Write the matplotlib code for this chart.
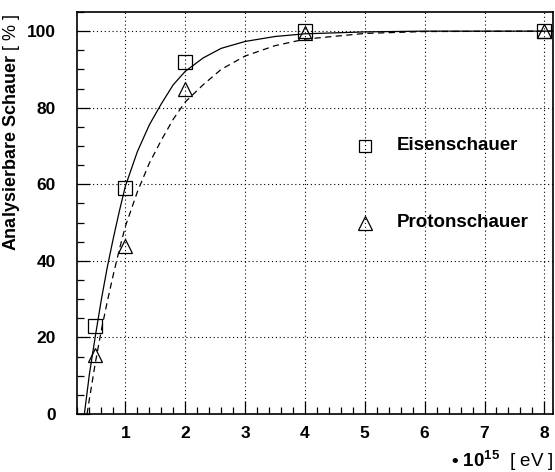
import matplotlib
matplotlib.use("Agg")
import matplotlib.pyplot as plt
from matplotlib.ticker import MultipleLocator

plt.rcParams['font.family'] = ['Liberation Sans', 'DejaVu Sans']
plt.rcParams['mathtext.fontset'] = 'custom'
plt.rcParams['mathtext.rm'] = 'Liberation Sans'
plt.rcParams['mathtext.bf'] = 'Liberation Sans:bold'
plt.rcParams['mathtext.it'] = 'Liberation Sans:italic'

# measured points
energy = [0.5, 1, 2, 4, 8]
eisen = [23, 59, 92, 100, 100]
proton = [15.5, 44, 85, 99.5, 100]

# fit curves
eisen_fit_x = [0.315, 0.4, 0.5, 0.6, 0.7, 0.8, 0.9, 1.0, 1.2, 1.4, 1.6, 1.8,
               2.0, 2.3, 2.6, 3.0, 3.5, 4.0, 5.0, 6.0, 8.15]
eisen_fit_y = [0, 10.5, 20.5, 30, 38.5, 46, 53, 59.5, 68.5, 75.5, 81, 86,
               89.5, 93, 95.5, 97.3, 98.6, 99.3, 99.8, 100, 100]
proton_fit_x = [0.36, 0.4, 0.5, 0.6, 0.7, 0.8, 0.9, 1.0, 1.2, 1.4, 1.6, 1.8,
                2.0, 2.3, 2.6, 3.0, 3.5, 4.0, 5.0, 6.0, 8.15]
proton_fit_y = [0, 4, 13.5, 22, 29.5, 36.5, 43, 49, 58, 65.5, 71.5, 77,
                81.5, 86, 90, 93.5, 96.2, 97.9, 99.4, 99.9, 100]

fig = plt.figure(figsize=(5.55, 4.72), dpi=100)
ax = fig.add_axes([0.1396, 0.1229, 0.8574, 0.8517])

ax.plot(eisen_fit_x, eisen_fit_y, color='black', lw=0.9)
ax.plot(proton_fit_x, proton_fit_y, color='black', lw=0.9, ls=(0, (5, 3.5)))
ax.plot(energy, eisen, ls='none', marker='s', ms=9.5, mfc='none',
        mec='black', mew=0.9)
ax.plot(energy, proton, ls='none', marker='^', ms=10, mfc='none',
        mec='black', mew=0.9)

# legend drawn inside the plot
ax.plot([5.01], [70], ls='none', marker='s', ms=9, mfc='none',
        mec='black', mew=0.9)
ax.plot([5.01], [50], ls='none', marker='^', ms=9.5, mfc='none',
        mec='black', mew=0.9)
ax.text(5.53, 70, 'Eisenschauer', fontsize=13.5, fontweight='bold',
        va='center', ha='left')
ax.text(5.53, 50, 'Protonschauer', fontsize=13.5, fontweight='bold',
        va='center', ha='left')

ax.set_xlim(0.2, 8.15)
ax.set_ylim(0, 105)
ax.xaxis.set_major_locator(MultipleLocator(1))
ax.xaxis.set_minor_locator(MultipleLocator(0.2))
ax.yaxis.set_major_locator(MultipleLocator(20))
ax.yaxis.set_minor_locator(MultipleLocator(5))
ax.set_xticks([1, 2, 3, 4, 5, 6, 7, 8])

ax.grid(True, which='major', color='black', ls=(0, (1, 2.5)), lw=0.8)
ax.tick_params(which='both', direction='in', color='black')
ax.tick_params(which='major', length=9.5, width=0.9)
ax.tick_params(which='minor', length=5, width=0.9)
ax.tick_params(axis='x', which='major', pad=9)
ax.tick_params(axis='y', which='major', pad=15.5)
for lab in ax.get_xticklabels() + ax.get_yticklabels():
    lab.set_fontsize(12.5)
    lab.set_fontweight('bold')
for sp in ax.spines.values():
    sp.set_linewidth(1.2)

fig.text(0.02, 1 - 14 / 472, r'$\mathbf{Analysierbare\ Schauer}$ [ % ]',
         rotation=90, fontsize=13, ha='center', va='top')
fig.text(554 / 555, 1 - 461 / 472, r'$\mathbf{•\ 10^{15}}$  [ eV ]',
         fontsize=13.5, ha='right', va='center')

fig.savefig('out.png', dpi=100)
